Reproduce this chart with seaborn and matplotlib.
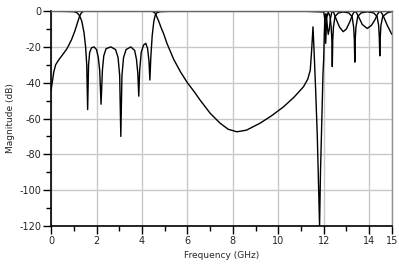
import matplotlib
matplotlib.use("Agg")
import matplotlib.pyplot as plt
import seaborn as sns
import pandas as pd
from matplotlib.ticker import FixedLocator

# ---- data ----
s11_freq = [0.0, 1.0, 1.15, 1.25, 1.35, 1.45, 1.52, 1.57, 1.61, 1.65, 1.70, 1.78, 1.89,
            2.00, 2.08, 2.14, 2.20, 2.26, 2.32, 2.42, 2.63, 2.84, 2.95, 3.02, 3.07, 3.12,
            3.19, 3.30, 3.51, 3.68, 3.76, 3.82, 3.86, 3.90, 3.97, 4.07, 4.17, 4.25, 4.31,
            4.35, 4.39, 4.45, 4.52, 4.58, 4.65, 4.8, 5.5, 11.0, 12.0, 12.05, 12.09, 12.13,
            12.2, 12.28, 12.33, 12.36, 12.38, 12.40, 12.43, 12.5, 12.65, 12.86, 13.1, 13.25,
            13.32, 13.35, 13.37, 13.39, 13.42, 13.5, 13.65, 13.92, 14.2, 14.35, 14.42, 14.45,
            14.47, 14.49, 14.52, 14.6, 14.8, 15.0]
s11_db = [0.0, -0.3, -1.0, -2.5, -5.5, -12, -20, -30, -55, -30, -23, -20.5, -20,
          -21.5, -26, -33, -52, -33, -25, -21, -20, -21.5, -26, -36, -70, -36,
          -26, -21.5, -20, -22, -27, -35, -47.5, -33, -23, -19, -18, -21, -28,
          -38.5, -26, -14, -6, -2.5, -1, -0.3, 0.0, 0.0, -0.5, -4, -18, -4,
          -0.5, -3, -9, -16, -31, -16, -9, -3, -1, -0.5, -1, -3,
          -9, -16, -28.5, -16, -9, -3, -1, -0.4, -1, -3, -8, -15,
          -25, -15, -8, -3, -1, -0.3]

s21_freq = [0.0, 0.05, 0.12, 0.2, 0.35, 0.5, 0.7, 0.9, 1.05, 1.15, 1.25, 1.32, 1.4, 1.5,
            4.4, 4.5, 4.58, 4.65, 4.75, 4.85, 4.95, 5.1, 5.25, 5.4, 5.7, 6.0, 6.3, 6.56,
            7.0, 7.44, 7.8, 8.18, 8.6, 9.2, 9.7, 10.23, 10.7, 11.11, 11.3, 11.41, 11.47,
            11.53, 11.57, 11.65, 11.72, 11.78, 11.82, 11.86, 11.92, 11.97, 12.0, 12.03,
            12.06, 12.1, 12.15, 12.2, 12.25, 12.3, 12.35, 12.38, 12.45, 12.55, 12.7, 12.86,
            13.0, 13.15, 13.27, 13.37, 13.45, 13.55, 13.7, 13.92, 14.1, 14.25, 14.38, 14.47,
            14.55, 14.65, 14.8, 15.0]
s21_db = [-44, -40, -34, -30, -27, -24.5, -21, -16, -11, -7, -3, -1.2, -0.3, 0.0,
          0.0, -0.4, -1.2, -3, -6, -9.5, -12.5, -18, -22.5, -27, -34, -40, -45, -49.7,
          -57, -62.6, -66, -67.4, -66.5, -62.6, -58.5, -53.5, -48, -42.3, -38, -33, -22,
          -8.8, -20, -45, -70, -100, -120, -90, -60, -35, -27, -12,
          -3, -1.5, -7, -13, -10, -4, -1, 0.0, -1, -4.5, -9, -11.5,
          -10, -6, -2, 0.0, -1, -3.5, -7.5, -9.7, -8, -5, -1.5, 0.0,
          -1, -3.5, -8, -13]

x_ticks = [0, 2, 4, 6, 8, 10, 12, 14, 15]
x_minor = [1, 3, 5, 7, 9, 11, 13]
y_ticks = [-120, -100, -80, -60, -40, -20, 0]
y_minor = [-110, -90, -70, -50, -30, -10]

df11 = pd.DataFrame({"f": s11_freq, "db": s11_db})
df21 = pd.DataFrame({"f": s21_freq, "db": s21_db})

sns.set_theme(style="white")
plt.rcParams["font.family"] = ["DejaVu Sans"]

fig = plt.figure(figsize=(3.99, 2.64), dpi=100)
ax = fig.add_axes([0.128, 0.144, 0.854, 0.814])

sns.lineplot(data=df21, x="f", y="db", sort=False, estimator=None, color="black",
             linewidth=1.0, ax=ax)
sns.lineplot(data=df11, x="f", y="db", sort=False, estimator=None, color="black",
             linewidth=1.0, ax=ax)

ax.set_xlim(0, 15)
ax.set_ylim(-120, 0)
ax.xaxis.set_major_locator(FixedLocator(x_ticks))
ax.xaxis.set_minor_locator(FixedLocator(x_minor))
ax.yaxis.set_major_locator(FixedLocator(y_ticks))
ax.yaxis.set_minor_locator(FixedLocator(y_minor))
ax.set_xticklabels([str(t) for t in x_ticks])
ax.set_yticklabels([str(t) for t in y_ticks])

ax.grid(True, which="major", color="#c8c8c8", linewidth=1.0)
ax.set_axisbelow(True)
ax.tick_params(which="major", direction="out", length=5.5, width=1, color="black",
               labelsize=7, pad=1.5, bottom=True, left=True)
ax.tick_params(which="minor", direction="out", length=3.5, width=1, color="black",
               bottom=True, left=True)
for side in ["left", "bottom"]:
    ax.spines[side].set_color("black")
    ax.spines[side].set_linewidth(1.2)
ax.spines["top"].set_color("#666666")
ax.spines["top"].set_linewidth(1.0)
ax.spines["right"].set_color("#909090")
ax.spines["right"].set_linewidth(1.0)

ax.set_xlabel("Frequency (GHz)", fontsize=6.5, labelpad=4)
ax.set_ylabel("Magnitude (dB)", fontsize=6.5, labelpad=3)

fig.savefig("out.png", dpi=100)
